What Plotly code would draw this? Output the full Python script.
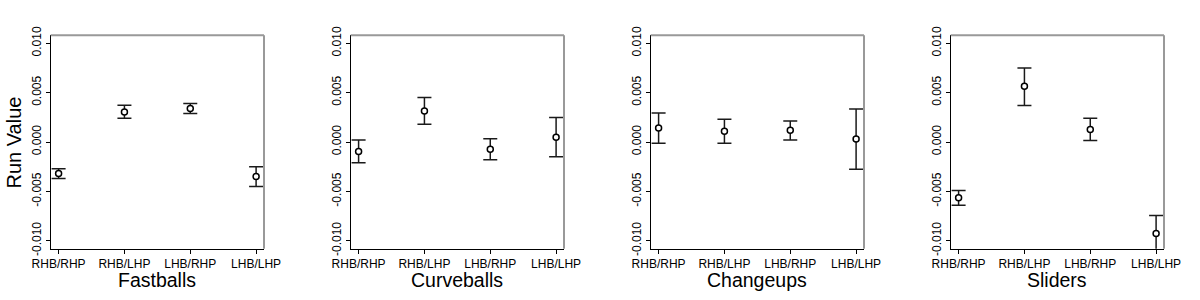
import plotly.graph_objects as go

categories = ["RHB/RHP", "RHB/LHP", "LHB/RHP", "LHB/LHP"]
panel_titles = ["Fastballs", "Curveballs", "Changeups", "Sliders"]

fastball_mid = [-0.0032, 0.00304, 0.00339, -0.00348]
fastball_hi = [-0.0027, 0.00372, 0.0039, -0.0025]
fastball_lo = [-0.0037, 0.0024, 0.00288, -0.0045]

curveball_mid = [-0.00097, 0.00314, -0.00074, 0.00048]
curveball_hi = [0.0002, 0.0045, 0.00034, 0.00247]
curveball_lo = [-0.0021, 0.0018, -0.0018, -0.0015]

changeup_mid = [0.00142, 0.00108, 0.00119, 0.0003]
changeup_hi = [0.00294, 0.0023, 0.00213, 0.00335]
changeup_lo = [-0.00013, -0.00013, 0.0002, -0.00277]

slider_mid = [-0.00564, 0.00565, 0.00126, -0.00926]
slider_hi = [-0.0049, 0.0075, 0.0024, -0.00744]
slider_lo = [-0.0064, 0.0037, 0.00014, -0.0111]

ytick_vals = [-0.010, -0.005, 0.000, 0.005, 0.010]
ytick_text = ["-0.010", "-0.005", "0.000", "0.005", "0.010"]
y_title = "Run Value"

panels = [
    (fastball_mid, fastball_hi, fastball_lo),
    (curveball_mid, curveball_hi, curveball_lo),
    (changeup_mid, changeup_hi, changeup_lo),
    (slider_mid, slider_hi, slider_lo),
]

W, H = 1200, 300
FONT = "Liberation Sans, Arial, Helvetica, sans-serif"
x_pos = [1, 2, 3, 4]

fig = go.Figure()
annotations = []
shapes = []
for i, (mid, hi, lo) in enumerate(panels):
    n = i + 1
    xa = "x" if n == 1 else f"x{n}"
    ya = "y" if n == 1 else f"y{n}"
    left = 300 * i + 50.7
    right = 300 * i + 264
    fig.add_trace(go.Scatter(
        x=x_pos, y=mid, xaxis=xa, yaxis=ya, mode="markers",
        marker=dict(symbol="circle", size=6, color="white",
                    line=dict(color="black", width=1.5)),
        error_y=dict(type="data", symmetric=False,
                     array=[h - m for h, m in zip(hi, mid)],
                     arrayminus=[m - l for m, l in zip(mid, lo)],
                     color="#1a1a1a", thickness=1.5, width=7),
        showlegend=False, hoverinfo="skip",
    ))
    xkey = "xaxis" if n == 1 else f"xaxis{n}"
    ykey = "yaxis" if n == 1 else f"yaxis{n}"
    fig.layout[xkey] = dict(
        domain=[left / W, right / W], range=[0.88, 4.12], anchor=ya,
        tickvals=x_pos, ticktext=categories, showgrid=False, zeroline=False,
        showline=True, linecolor="black", linewidth=1,
        ticks="outside", ticklen=4, tickwidth=1, tickcolor="black",
        tickfont=dict(family=FONT, size=12, color="black"),
        automargin=False, fixedrange=True,
    )
    fig.layout[ykey] = dict(
        domain=[(H - 248.7) / H, (H - 35.3) / H], range=[-0.0108, 0.0108],
        anchor=xa, tickvals=ytick_vals, ticktext=ytick_text,
        showgrid=False, zeroline=False,
        showline=True, linecolor="black", linewidth=1,
        ticks="outside", ticklen=4, tickwidth=1, tickcolor="black",
        tickangle=-90,
        tickfont=dict(family=FONT, size=12, color="black"),
        automargin=False, fixedrange=True,
    )
    # gray top and right border
    shapes.append(dict(type="line", xref=f"{xa} domain", yref=f"{ya} domain",
                       x0=0, x1=1, y0=1, y1=1,
                       line=dict(color="#999999", width=2), layer="above"))
    shapes.append(dict(type="line", xref=f"{xa} domain", yref=f"{ya} domain",
                       x0=1, x1=1, y0=0, y1=1,
                       line=dict(color="#999999", width=2), layer="above"))
    annotations.append(dict(
        text=panel_titles[i], xref=f"{xa} domain", yref="paper",
        x=0.5, y=(H - 279.5) / H, xanchor="center", yanchor="middle",
        showarrow=False, font=dict(family=FONT, size=19.5, color="black"),
    ))

annotations.append(dict(
    text=y_title, xref="paper", yref="paper", x=13.5 / W, y=(H - 143) / H,
    xanchor="center", yanchor="middle", textangle=-90, showarrow=False,
    font=dict(family=FONT, size=20, color="black"),
))

fig.update_layout(
    width=W, height=H, margin=dict(l=0, r=0, t=0, b=0, autoexpand=False),
    paper_bgcolor="white", plot_bgcolor="white",
    annotations=annotations, shapes=shapes,
)

fig.write_html("out.html", config={"displayModeBar": False})
